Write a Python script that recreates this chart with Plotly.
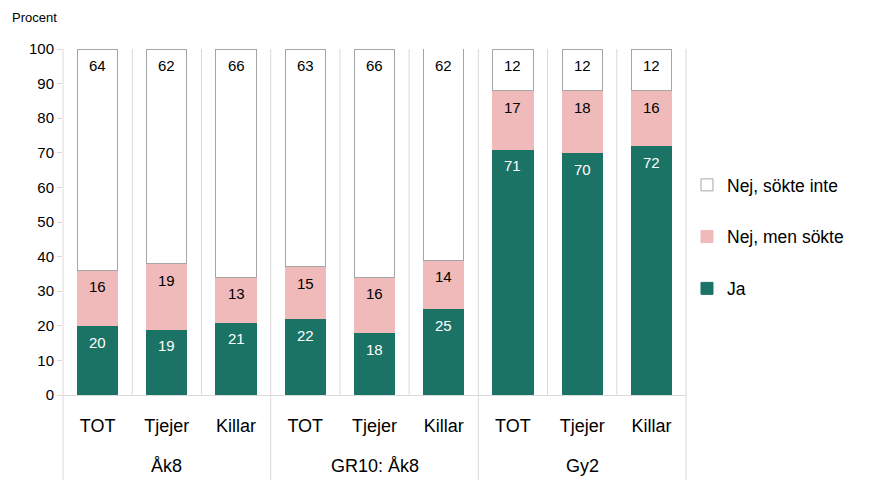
import plotly.graph_objects as go

# Groups and sub-categories shown under the bars
groups = ["Åk8", "GR10: Åk8", "Gy2"]
subcats = ["TOT", "Tjejer", "Killar", "TOT", "Tjejer", "Killar", "TOT", "Tjejer", "Killar"]

# Share (%) per answer
ja = [20, 19, 21, 22, 18, 25, 71, 70, 72]
nej_men_sokte = [16, 19, 13, 15, 16, 14, 17, 18, 16]
nej_sokte_inte = [64, 62, 66, 63, 66, 62, 12, 12, 12]

y_ticks = list(range(0, 101, 10))
Y_MAX = 100

FONT = "Liberation Sans, Arial, sans-serif"
TEAL = "#1b7366"
PINK = "#f0baba"
GRID = "#d9d9d9"

n = len(subcats)
per_group = n // len(groups)
xpos = list(range(n))

fig = go.Figure()
series = [
    ("Ja", ja, TEAL, TEAL, "white", 3),
    ("Nej, men sökte", nej_men_sokte, PINK, PINK, "black", 2),
    ("Nej, sökte inte", nej_sokte_inte, "white", "#a6a6a6", "black", 1),
]
base = [0] * n
for name, vals, fill, edge, tcol, rank in series:
    fig.add_trace(go.Bar(
        name=name, x=xpos, y=vals,
        marker=dict(color=fill, line=dict(color=edge, width=1)),
        width=0.58, legendrank=rank, legendgroup=name, hoverinfo="name+y",
    ))
    # value label near the top of each segment (rounded totals may pass 100)
    for i, v in enumerate(vals):
        top = base[i] + v
        fig.add_annotation(x=i, y=min(top, Y_MAX), xref="x", yref="y", text=str(v),
                           showarrow=False, yanchor="top", yshift=-6,
                           font=dict(family=FONT, size=15, color=tcol))
        base[i] = top

# Separators: light lines between every bar; group borders run down through the labels
for i in range(n + 1):
    is_group_edge = i % per_group == 0
    fig.add_shape(type="line", xref="x domain", yref="paper",
                  x0=i / n, x1=i / n, y0=(-85 / 346) if is_group_edge else 0, y1=1,
                  line=dict(color=GRID, width=1), layer="below")

# Group labels under the sub-category labels
for g, name in enumerate(groups):
    fig.add_annotation(x=g * per_group + (per_group - 1) / 2, y=0, xref="x", yref="paper",
                       text=name, showarrow=False, yanchor="middle", yshift=-71,
                       font=dict(family=FONT, size=18, color="black"))

fig.add_annotation(text="Procent", xref="paper", yref="paper",
                   x=-0.085, y=1.0896, xanchor="left", yanchor="middle",
                   showarrow=False, font=dict(family=FONT, size=13, color="black"))

fig.update_layout(
    width=870, height=480,
    margin=dict(l=63, r=184, t=49, b=85),
    barmode="stack",
    plot_bgcolor="white", paper_bgcolor="white",
    font=dict(family=FONT, color="black"),
    legend=dict(traceorder="grouped", tracegroupgap=26,
                x=1.0016, y=0.659, xanchor="left", yanchor="top",
                font=dict(family=FONT, size=17.5, color="black"),
                itemwidth=30),
)
fig.update_xaxes(
    range=[-0.5, n - 0.5], tickvals=xpos, ticktext=subcats,
    tickfont=dict(family=FONT, size=18, color="black"),
    showline=True, linecolor=GRID, linewidth=1,
    showgrid=False, zeroline=False, ticks="", ticklabelstandoff=14,
)
fig.update_yaxes(
    range=[0, Y_MAX], tickvals=y_ticks,
    tickfont=dict(family=FONT, size=15, color="black"),
    showgrid=False, zeroline=False, showline=False,
    ticks="outside", ticklen=5, tickcolor=GRID,
)

fig.write_html("out.html")
